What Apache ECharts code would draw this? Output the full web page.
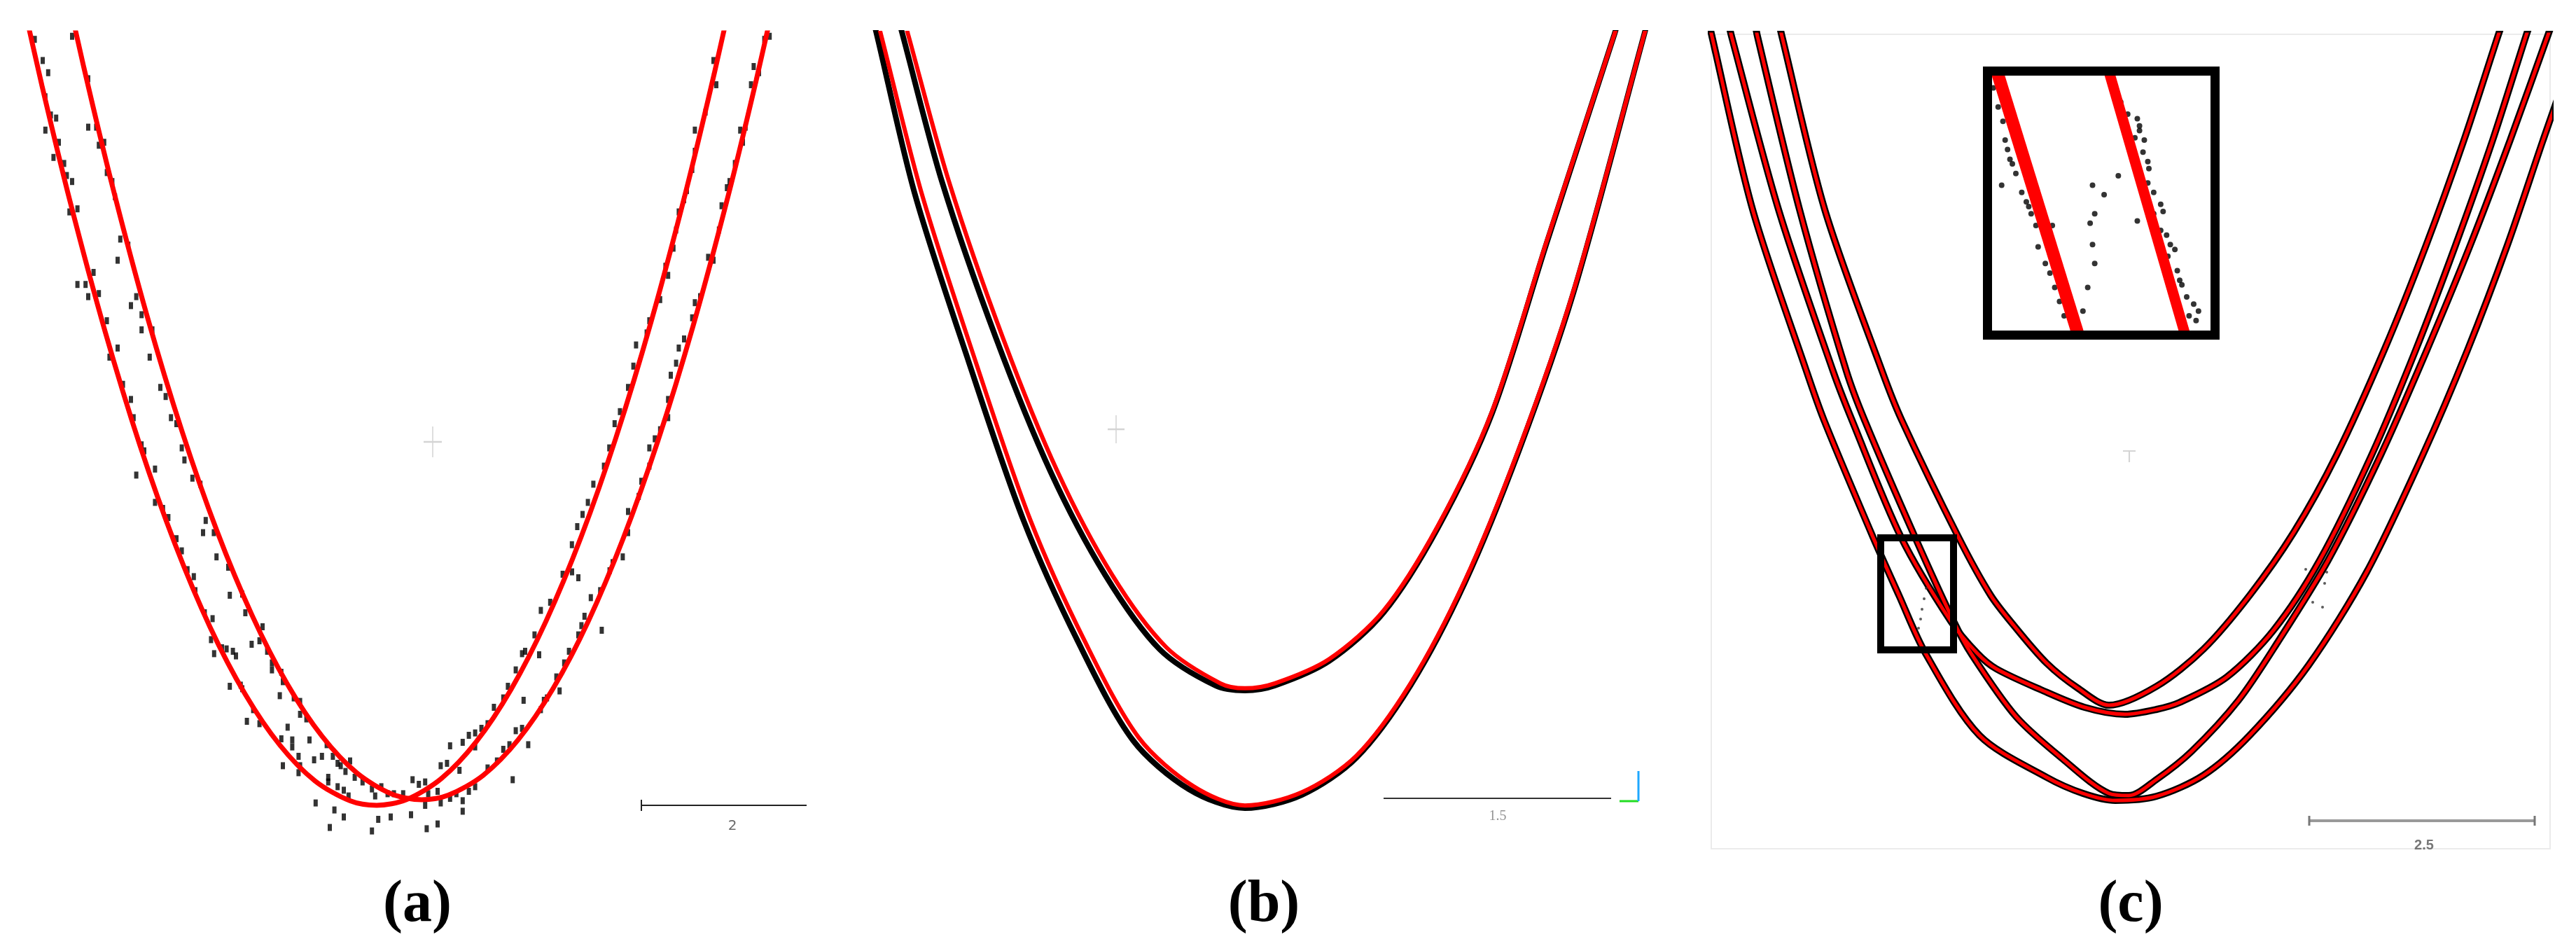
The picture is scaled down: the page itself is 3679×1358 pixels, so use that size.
<!DOCTYPE html>
<html>
<head>
<meta charset="utf-8">
<title>Hyperbola fitting</title>
<script src="https://cdn.jsdelivr.net/npm/echarts@6/dist/echarts.min.js"></script>
<style>
    html, body { margin: 0; padding: 0; background: #fff; }
    #main { width: 3679px; height: 1358px; }
</style>
</head>
<body>
<div id="main"></div>
<script>
// 数据单位: 道号 (trace) / 采样点 (sample)

// (a) 拟合曲线
var aCurveA = [[15,-28.7],[30,37.8],[50,120.2],[75,213],[100,294.7],[125,365],[150,424.2],[175,472],[200,508.7],[225,534.1],[250,548.3],[269,551.5],[290,547.5],[315,532.5],[340,506.2],[365,468.6],[390,419.8],[415,359.8],[440,288.5],[465,206],[490,112.3],[510,29.2],[525,-37.9]];
var aCurveB = [[45,-41.9],[60,25.2],[80,108.3],[105,202],[130,284.5],[155,355.8],[180,415.8],[205,464.6],[230,502.2],[255,528.5],[280,543.5],[301,547.5],[320,544.3],[345,530.1],[370,504.7],[395,468],[420,420.2],[445,361],[470,290.7],[495,209],[520,116.2],[540,33.8],[555,-32.7]];
// (a) 检测点
var aDots = [
    [24.8,4.6],[30.5,19.7],[34.4,28.4],[32.4,45.6],[36.3,58.6],[40.1,60.8],[32.4,69.4],[42,78.1],[38.2,88.9],[45.8,93.2],[47.7,101.8],[51.5,106.1],[49.6,127.8],[55.3,125.6],[55.3,179.6],[61.1,179.6],[63,188.3],[66.8,171],[70.6,186.1],[76.3,205.5],[78.2,231.5],[84,225],[87.8,250.9],[93.5,261.7],[95.4,274.7],[97.3,315.7],[101.1,294.1],[103,298.4],[110.7,311.4],[110.7,335.2],[116.4,339.5],[120.2,346],[126,361.1],[129.8,369.8],
    [51.5,2.4],[63,32.7],[63,67.3],[68.7,67.3],[70.6,80.2],[74.4,78.1],[76.3,99.7],[80.2,106.1],[82.1,117],[84,162.3],[85.9,147.2],[91.6,151.5],[93.5,194.7],[97.3,188.3],[101.1,201.2],[101.1,212],[108.8,212],[106.9,231.5],[114.5,253.1],[118.3,259.6],[122.1,274.7],[126,279],[129.8,296.3],[131.7,304.9],[137.4,317.9],[143.1,322.2],[146.9,348.1],[145,356.8],[152.7,356.8],[154.6,374.1],
    [509.5,19.7],[511.5,37],[503.8,56.5],[496.2,69.4],[496.2,84.5],[494.3,97.5],[490.5,112.6],[488.5,119.1],[484.7,127.8],[482.8,140.7],[480.9,153.7],[475.2,166.6],[477.1,173.1],[471.4,190.4],[463.7,205.5],[461.8,214.2],[454.2,222.8],[452.3,237.9],[448.5,253.1],[442.7,270.4],[438.9,279],[435.1,296.3],[431.3,309.3],[423.7,322.2],[419.8,335.2],[416,343.8],[412.2,352.5],[408.4,365.4],
    [549.6,2.4],[545.8,4.6],[538.2,24],[542,28.4],[536.3,37],[532.4,67.3],[528.6,69.4],[530.5,78.1],[524.8,93.2],[521,106.1],[519.1,110.5],[515.3,123.4],[513.4,140.7],[509.5,162.3],[505.7,160.2],[500,188.3],[496.2,192.6],[494.3,203.4],[488.5,218.5],[484.7,225],[482.8,235.8],[479,244.4],[477.1,261.7],[477.1,274.7],[471.4,283.3],[467.6,289.8],[463.7,296.3],[463.7,309.3],[458,320.1],[456.1,330.9],[448.5,341.7],[448.5,356.8],[444.7,374.1],
    [133.9,383.2],[138.4,388.2],[139.5,398.2],[146.2,414],[151.8,418.2],[150.7,433.2],[158.5,439],[161.8,439.8],[166.3,441.5],[168.5,444.8],[152.9,443.2],[164.1,466.5],[171.9,465.7],[173,468.2],[176.3,491.5],[180.8,483.2],[185.3,493.2],[187.5,424],[179.7,436.5],[163,381.5],[164.1,401.5],[173,400.7],[175.2,414],[185.3,434],[190.8,441.5],[194.2,449.8],[194.2,454.8],[200.9,456.5],[199.8,473.2],[202,463.2],[209.8,474.8],[214.3,477.3],[214.3,486.5],[218.8,489.8],[205.4,495.7],[200.9,504],[208.7,504.8],[208.7,509.8],[213.2,516.5],[214.3,523.2],[221,504.8],[224.3,519],[202,523.2],[213.2,528.2],[229.9,516.5],[233.3,508.2],[234.4,531.5],[237.7,516.5],[241.1,521.5],[243.3,523.2],[246.7,527.3],[250,519.8],[234.4,534.8],[241.1,538.2],[245.5,540.7],[248.9,544.8],[253.3,531.5],[258.9,534.8],[265.6,539.8],[267.9,544.8],[272.3,538.2],[276.8,543.2],[281.3,543.2],[287.9,543.2],[294.6,533.2],[299.1,536.5],[303.6,534.8],[305.8,543.2],[312.5,541.5],[314.7,549.8],[321.4,546.5],[325.9,543.2],[330.4,548.2],[334.8,541.5],[339.3,538.2],
    [225.4,549.8],[238.8,554.8],[245.5,559.8],[235.5,567.3],[265.6,569.8],[270.1,561.5],[279,559.8],[293.5,558.2],[303.6,551.5],[304.7,568.2],[312.5,564.8],[330.4,555.7],[319.2,521.5],[321.4,509],[330.4,506.5],[334.8,501.5],[339.3,499.8],[343.8,496.5],[348.2,493.2],[352.7,481.5],[359.4,474.8],[362.7,466.5],[368.3,454.8],[372.8,443.2],[375,441.5],[381.7,429.8],[386.2,412.3],[392.9,406.5],[401.8,386.5],[408.5,384.8],[413,389],
    [314.7,523.2],[328.1,526.5],[339.3,509.8],[348.2,524.8],[354.9,519.8],[359.4,511.5],[363.8,508.2],[366.1,533.2],[368.3,498.2],[372.8,496.5],[377.2,508.2],[373.9,476.5],[386.2,483.2],[388.4,476.5],[390.6,474.8],[397.3,459.8],[399.6,469.8],[402.9,449.8],[406.3,441.5],[413,429.8],[415.2,423.2],[417.4,416.5],[421.9,403.2],[428.6,398.2],[429.7,426.5],[435.3,384],[437.5,378.2],[385,444]
];

// (b) 拟合曲线与检测带
var bUpperRed = [[30.5,-10],[33.5,1.1],[62.6,106],[101.4,218.3],[140.2,313.3],[179,386.7],[217.7,438.5],[256.5,464.4],[274,467.9],[295.3,464.4],[334.1,447.1],[372.9,412.6],[411.7,352.1],[450.5,270.1],[489.3,149.2],[537.8,1.1],[541,-10]];
var bLowerRed = [[11.3,-10],[14.1,1.1],[43.2,114.7],[82,235.6],[120.8,347.8],[159.6,434.2],[198.3,503.3],[237.1,537.8],[274,551.6],[314.7,542.1],[353.5,516.2],[392.3,464.4],[431.1,391],[470,296],[508.7,183.8],[559.1,1.1],[562,-10]];
var bUpperBlack = [[26.5,-10],[29.5,1.1],[57.6,106],[96.4,218.3],[135.2,313.3],[174,386.7],[213,440],[253,466],[274,469.5],[295.3,466],[334.1,448.5],[372.9,414],[411.7,353.5],[450.5,271.5],[489.3,150.5],[537.8,1.1],[541,-10]];
var bLowerBlack = [[8.3,-10],[11.1,1.1],[38.2,114.7],[77,235.6],[115.8,347.8],[154.6,434.2],[194,505],[234,540],[274,553.5],[314.7,544],[353.5,517.6],[392.3,465.8],[431.1,392.4],[470,297.4],[508.7,185.2],[559.1,1.1],[562,-10]];

// (c) 四条拟合曲线
var cOuterLow = [[-2,-9.5],[0.5,1.5],[29.5,125],[68,240.5],[80.5,275.5],[115.5,359],[134,400.5],[153,442],[191.5,500.5],[239.5,530.5],[265.5,542],[288.5,547],[318,544],[351.5,529],[384.5,500.5],[426.5,450.5],[468,384],[508,300.5],[540,225.5],[568.5,150.5],[594,75.5],[608,35.5]];
var cInnerLow = [[31,-9.5],[33,1.5],[63,125],[96.5,240.5],[109.5,275.5],[145.5,359],[173,419],[185.5,442],[217.5,487],[250.5,517],[284,542],[298,543.5],[318,532],[343,512],[376.5,475.5],[404.5,434],[440.5,375.5],[478,300.5],[511,225.5],[542,150.5],[570.5,75.5],[597.5,0.5],[601,-9.5]];
var cWideUp = [[12,-9.5],[14.5,1.5],[48,125],[87,240.5],[100.5,275.5],[135.5,359],[171,419],[190,442],[203.5,453],[235.5,468],[266.5,480.5],[295.5,485.5],[318,482],[334.5,477],[368,459],[401.5,425.5],[434.5,375.5],[471.5,300.5],[503,225.5],[531.5,150.5],[558,75.5],[582,0.5],[585.5,-9.5]];
var cNarrowUp = [[48,-9.5],[50.5,1.5],[81,125],[122,240.5],[136,275.5],[176.5,359],[199.5,400.5],[216,422],[239.5,449],[262,467],[284,479],[318,465.5],[351.5,439],[384.5,400.5],[416,355.5],[446.5,300.5],[480.5,225.5],[510.5,150.5],[537.5,75.5],[562,0.5],[565.5,-9.5]];
var cStrayDots = [[424.5,382],[438,392],[429.5,405.5],[436.5,409],[439.5,384],[153.5,395.5],[152,403],[150.5,410.5],[149.5,417.5],[148,424]];

// (c) 局部放大图
var insetRed1 = [[2.5,-1],[39.2,101]];
var insetRed2 = [[53.7,-1],[88.2,101]];
var insetDots = [
    [0.6,4.8],[2.8,12.3],[5,17.9],[6,25.3],[7.1,29],[8.2,32.8],[9.3,34.6],[10.9,38.4],[13.6,45.8],[15.7,49.5],[16.8,51.4],[17.9,54.2],[20.1,58.8],[21.1,67.2],[24.4,73.7],[26.5,77.5],[28.7,83.1],[30.9,88.6],[33,94.2],[27.6,58.8],[4.4,43],
    [46,43],[51.3,46.7],[57.8,39.3],[47,54.2],[44.9,57.9],[46,66.3],[47,73.7],[43.8,83.1],[41.6,92.4],[66.5,57],
    [55.7,3],[56.7,6.7],[58.9,10.4],[62.1,15.1],[66.5,16.9],[67.5,19.7],[67.5,21.6],[69.7,25.3],[65.4,24.4],[69.1,30],[71.3,33.7],[71.8,36.5],[71.3,42.1],[74,45.8],[74,54.2],[77.2,50.5],[78.3,53.3],[77.2,60.7],[79.9,62.6],[81.6,66.3],[83.7,68.2],[80.5,70.9],[84.8,76.5],[85.9,80.3],[86.9,82.1],[89.1,86.8],[92.3,89.6],[94.5,92.4],[90.2,94.2],[93.4,96.1]
];

// 比例尺
var aScaleBar = [[458,551.5],[576,551.5]];
var aScaleTick = [[458,547.5],[458,555.5]];
var aScaleLabel = [{ value: [523,566.5], name: '2' }];
var bScaleBar = [[373,546.5],[535.5,546.5]];
var bScaleLabel = [{ value: [454.5,559.5], name: '1.5' }];
var bAxisX = [[541.5,548.5],[555,548.5]];
var bAxisY = [[555,527],[555,548.5]];
var cScaleBar = [[427,561.5],[588,561.5]];
var cScaleTickL = [[427,558],[427,565]];
var cScaleTickR = [[588,558],[588,565]];
var cScaleLabel = [{ value: [509,579], name: '2.5' }];

// 中心标记
var aCross = [[309,292]];
var bCross = [[182,283]];
var cMark = [[298.5,301.5]];

var panelNames = ['a', 'b', 'c'];

// ---- 布局 ----
var labelCenters = [591, 1800, 3038];
var grids = [
    { left: 0, top: 47, width: 1195, height: 1178 },
    { left: 1230, top: 47, width: 1150, height: 1178 },
    { left: 2444, top: 49, width: 1198, height: 1163, show: true, borderColor: '#ebebeb', borderWidth: 2 },
    { left: 2845, top: 108, width: 312, height: 364 },
    { left: 2838.5, top: 101.5, width: 325, height: 377, show: true, borderColor: '#000', borderWidth: 13, backgroundColor: 'transparent', z: 10 },
    { left: 2686, top: 768, width: 104, height: 160, show: true, borderColor: '#000', borderWidth: 10, backgroundColor: 'transparent', z: 10 }
];
var ranges = [[0, 597.5, 0, 589], [0, 575, 0, 589], [0, 599, 0, 581.5], [0, 100, 0, 100], [0, 1, 0, 1], [0, 1, 0, 1]];

var xAxes = [], yAxes = [];
for (var i = 0; i < grids.length; i++) {
    xAxes.push({ gridIndex: i, type: 'value', min: ranges[i][0], max: ranges[i][1], show: false });
    yAxes.push({ gridIndex: i, type: 'value', inverse: true, min: ranges[i][2], max: ranges[i][3], show: false });
}

function curve(data, gi, color, width, z) {
    return {
        type: 'line', xAxisIndex: gi, yAxisIndex: gi, data: data,
        smooth: 0.3, symbol: 'none', silent: true, z: z,
        lineStyle: { color: color, width: width }
    };
}
function straight(data, gi, color, width, z) {
    return {
        type: 'line', xAxisIndex: gi, yAxisIndex: gi, data: data,
        symbol: 'none', silent: true, z: z || 4,
        lineStyle: { color: color, width: width }
    };
}
function dots(data, gi, symbol, size, color, z) {
    return {
        type: 'scatter', xAxisIndex: gi, yAxisIndex: gi, data: data,
        symbol: symbol, symbolSize: size, silent: true, z: z || 2,
        itemStyle: { color: color }
    };
}
function marker(data, gi, path, size) {
    return {
        type: 'scatter', xAxisIndex: gi, yAxisIndex: gi, data: data,
        symbol: path, symbolSize: size, silent: true, z: 1,
        itemStyle: { color: 'none', borderColor: '#c9c9c9', borderWidth: 2 }
    };
}
function textAt(data, gi, font, color, weight) {
    return {
        type: 'scatter', xAxisIndex: gi, yAxisIndex: gi, data: data,
        symbolSize: 0, silent: true, z: 4,
        label: { show: true, position: 'inside', formatter: '{b}', fontFamily: font, fontSize: 20, color: color, fontWeight: weight || 'normal' }
    };
}

var crossPath = 'path://M0,10L20,10M10,0L10,20';
var tPath = 'path://M0,0L20,0M10,0L10,16';

var series = [
    // (a)
    dots(aDots, 0, 'rect', [6, 10], '#000', 2),
    curve(aCurveA, 0, '#ff0000', 7, 3),
    curve(aCurveB, 0, '#ff0000', 7, 3),
    marker(aCross, 0, crossPath, [26, 44]),
    straight(aScaleBar, 0, '#222', 2),
    straight(aScaleTick, 0, '#222', 2),
    textAt(aScaleLabel, 0, 'DejaVu Sans', '#444'),
    // (b)
    curve(bUpperBlack, 1, '#000', 8, 2),
    curve(bLowerBlack, 1, '#000', 8, 2),
    curve(bUpperRed, 1, '#ff0000', 6, 3),
    curve(bLowerRed, 1, '#ff0000', 6, 3),
    marker(bCross, 1, crossPath, [24, 40]),
    straight(bScaleBar, 1, '#333', 2),
    textAt(bScaleLabel, 1, 'Liberation Serif', '#777'),
    straight(bAxisX, 1, '#22dd22', 3),
    straight(bAxisY, 1, '#1fa8ff', 3),
    // (c)
    curve(cOuterLow, 2, '#000', 10, 2),
    curve(cInnerLow, 2, '#000', 10, 2),
    curve(cWideUp, 2, '#000', 10, 2),
    curve(cNarrowUp, 2, '#000', 10, 2),
    curve(cOuterLow, 2, '#ff0000', 5, 3),
    curve(cInnerLow, 2, '#ff0000', 5, 3),
    curve(cWideUp, 2, '#ff0000', 5, 3),
    curve(cNarrowUp, 2, '#ff0000', 5, 3),
    dots(cStrayDots, 2, 'circle', 4, '#333', 2),
    marker(cMark, 2, tPath, [18, 16]),
    straight(cScaleBar, 2, '#999', 4),
    straight(cScaleTickL, 2, '#777', 3),
    straight(cScaleTickR, 2, '#777', 3),
    textAt(cScaleLabel, 2, 'Liberation Sans', '#555', 'bold'),
    // (c) 放大图
    dots(insetDots, 3, 'circle', 8, '#000', 2),
    straight(insetRed1, 3, '#ff0000', 18, 3),
    straight(insetRed2, 3, '#ff0000', 15, 3)
];

var titles = panelNames.map(function (name, idx) {
    return {
        text: '{p|(}{b|' + name + '}{p|)}',
        left: labelCenters[idx],
        top: 1240,
        textAlign: 'center',
        textStyle: {
            rich: {
                p: { fontFamily: 'Liberation Serif', fontSize: 84, color: '#000', lineHeight: 96 },
                b: { fontFamily: 'Liberation Serif', fontSize: 84, fontWeight: 'bold', color: '#000', lineHeight: 96 }
            }
        }
    };
});

var myChart = echarts.init(document.getElementById('main'));
myChart.setOption({
    animation: false,
    backgroundColor: '#fff',
    title: titles,
    grid: grids,
    xAxis: xAxes,
    yAxis: yAxes,
    series: series
});
</script>
</body>
</html>
